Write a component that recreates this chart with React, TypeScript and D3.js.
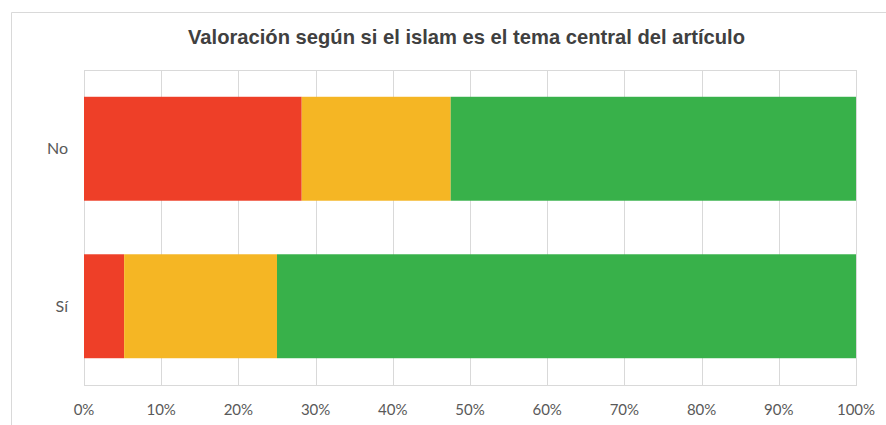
import React, { useEffect, useRef } from 'react';
import * as d3 from 'd3';

const categories = ['No', 'Sí'];
const seriesNames = ['Negativa', 'Neutra', 'Positiva'];
const negativa = [28.2, 5.2];
const neutra = [19.3, 19.8];
const positiva = [52.5, 75.0];
const tickValues = [0, 10, 20, 30, 40, 50, 60, 70, 80, 90, 100];
const title = 'Valoración según si el islam es el tema central del artículo';

const COLORS = ['#EE3F28', '#F5B624', '#38B14A'];

const W = 886;
const H = 425;
const plot = { left: 84, right: 856, top: 70, bottom: 385 };

const App: React.FC = () => {
  const svgRef = useRef<SVGSVGElement>(null);

  useEffect(() => {
    if (!svgRef.current) return;
    const svg = d3.select(svgRef.current);
    svg.selectAll('*').remove();

    // outer chart frame (right edge runs off the picture)
    svg.append('path')
      .attr('d', `M${W + 5},12.5 H11.5 V${H + 5}`)
      .attr('fill', 'none')
      .attr('stroke', '#D9D9D9')
      .attr('stroke-width', 1);

    // narrow bold title: squeeze a regular sans into the width of the original
    svg.append('text')
      .attr('x', 188)
      .attr('y', 44)
      .attr('textLength', 557)
      .attr('lengthAdjust', 'spacingAndGlyphs')
      .attr('fill', '#404040')
      .style('font-family', '"Liberation Sans Narrow", "Arial Narrow", "Liberation Sans", sans-serif')
      .style('font-size', '21px')
      .style('font-weight', 'bold')
      .text(title);

    const x = d3.scaleLinear().domain([0, 100]).range([plot.left, plot.right]);
    const y = d3.scaleBand()
      .domain(categories)
      .range([plot.top, plot.bottom])
      .paddingInner(0.34)
      .paddingOuter(0.17);

    // gridlines
    svg.append('g')
      .selectAll('line')
      .data(tickValues)
      .join('line')
      .attr('x1', d => Math.round(x(d)) + 0.5)
      .attr('x2', d => Math.round(x(d)) + 0.5)
      .attr('y1', plot.top)
      .attr('y2', plot.bottom)
      .attr('stroke', '#D9D9D9');

    // plot area border
    svg.append('rect')
      .attr('x', plot.left + 0.5)
      .attr('y', plot.top + 0.5)
      .attr('width', plot.right - plot.left)
      .attr('height', plot.bottom - plot.top)
      .attr('fill', 'none')
      .attr('stroke', '#D9D9D9');

    const rows = categories.map((c, i) => ({ cat: c, values: [negativa[i], neutra[i], positiva[i]] }));
    const stack = d3.stack<any>().keys(seriesNames)(
      rows.map(r => ({ cat: r.cat, Negativa: r.values[0], Neutra: r.values[1], Positiva: r.values[2] }))
    );

    stack.forEach((layer, si) => {
      svg.append('g')
        .selectAll('rect')
        .data(layer)
        .join('rect')
        .attr('x', d => x(d[0]))
        .attr('y', d => y(d.data.cat) as number)
        .attr('width', d => x(d[1]) - x(d[0]))
        .attr('height', y.bandwidth())
        .attr('fill', COLORS[si]);
    });

    const labelFont = 'Lato, "Open Sans", "Liberation Sans", sans-serif';

    svg.append('g')
      .selectAll('text')
      .data(categories)
      .join('text')
      .attr('x', plot.left - 16)
      .attr('y', d => (y(d) as number) + y.bandwidth() / 2)
      .attr('dy', '0.35em')
      .attr('text-anchor', 'end')
      .attr('fill', '#595959')
      .style('font-family', labelFont)
      .style('font-size', '16px')
      .text(d => d);

    svg.append('g')
      .selectAll('text')
      .data(tickValues)
      .join('text')
      .attr('x', d => x(d))
      .attr('y', 410)
      .attr('dy', '0.35em')
      .attr('text-anchor', 'middle')
      .attr('fill', '#595959')
      .style('font-family', labelFont)
      .style('font-size', '15px')
      .text(d => `${d}%`);
  }, []);

  return (
    <svg
      ref={svgRef}
      width={W}
      height={H}
      style={{ position: 'absolute', left: 0, top: 0, background: '#fff' }}
    />
  );
};

export default App;
